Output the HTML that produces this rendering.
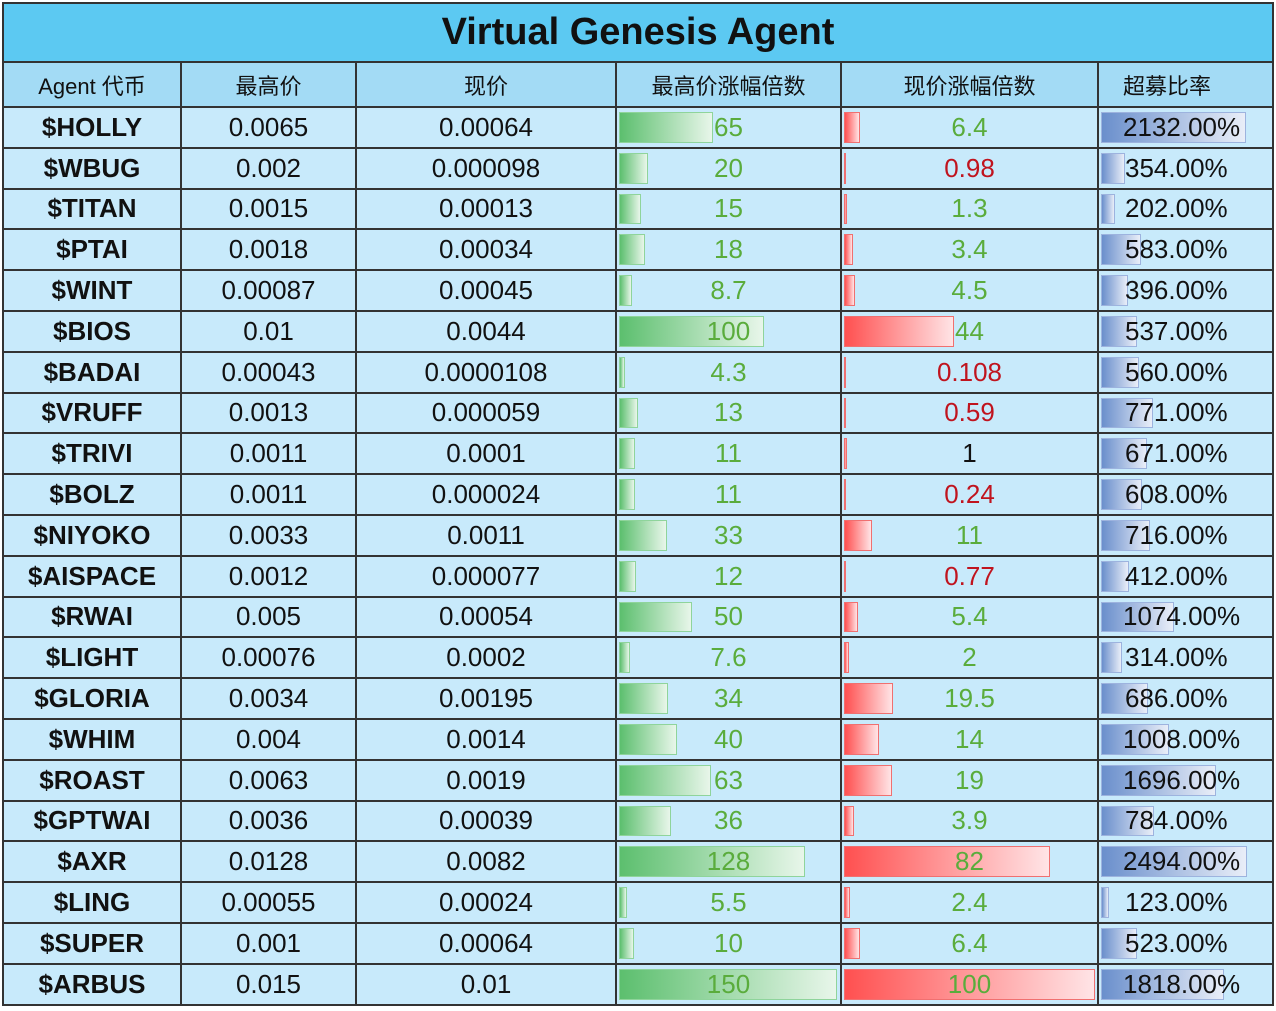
<!DOCTYPE html>
<html><head><meta charset="utf-8">
<style>
body{margin:0;width:1276px;height:1011px;background:#fff;overflow:hidden;font-family:"Liberation Sans","Noto Sans CJK SC",sans-serif}
#wrap{position:absolute;left:0;top:0;width:1276px;height:1011px}
.cell{position:absolute;box-sizing:border-box;display:flex;align-items:center;justify-content:center;font-size:26px;color:#111}
.bar{position:absolute;top:4px;bottom:4px;box-sizing:border-box}
.txt{position:relative}
</style></head><body>
<div id="wrap">
<div class="cell" style="left:2px;top:2px;width:1272px;height:61px;background:#5cc9f2;font-size:38px;font-weight:bold;border:2px solid #333">Virtual Genesis Agent</div>
</div>
<script>
const tokens=["$HOLLY","$WBUG","$TITAN","$PTAI","$WINT","$BIOS","$BADAI","$VRUFF","$TRIVI","$BOLZ","$NIYOKO","$AISPACE","$RWAI","$LIGHT","$GLORIA","$WHIM","$ROAST","$GPTWAI","$AXR","$LING","$SUPER","$ARBUS"];
const highPrice=["0.0065","0.002","0.0015","0.0018","0.00087","0.01","0.00043","0.0013","0.0011","0.0011","0.0033","0.0012","0.005","0.00076","0.0034","0.004","0.0063","0.0036","0.0128","0.00055","0.001","0.015"];
const curPrice=["0.00064","0.000098","0.00013","0.00034","0.00045","0.0044","0.0000108","0.000059","0.0001","0.000024","0.0011","0.000077","0.00054","0.0002","0.00195","0.0014","0.0019","0.00039","0.0082","0.00024","0.00064","0.01"];
const highMult=[65,20,15,18,8.7,100,4.3,13,11,11,33,12,50,7.6,34,40,63,36,128,5.5,10,150];
const curMult=[6.4,0.98,1.3,3.4,4.5,44,0.108,0.59,1,0.24,11,0.77,5.4,2,19.5,14,19,3.9,82,2.4,6.4,100];
const oversub=[2132,354,202,583,396,537,560,771,671,608,716,412,1074,314,686,1008,1696,784,2494,123,523,1818];
const headers=["Agent 代币","最高价","现价","最高价涨幅倍数","现价涨幅倍数","超募比率"];
const colX=[2,180,355,615,840,1097,1274];
const wrap=document.getElementById('wrap');
const top0=63,hdrH=45,rowH=40.8;
function cell(x0,x1,y,h,bg,name){const d=document.createElement('div');d.className='cell';


d.style.cssText=`left:${x0}px;top:${y}px;width:${x1-x0}px;height:${h}px;background:${bg};border-left:2px solid #333;border-bottom:2px solid #333;`;wrap.appendChild(d);return d;}
headers.forEach((t,i)=>{const c=cell(colX[i],colX[i+1],top0,hdrH,'#a3dbf5','header-'+i);c.style.fontSize='22px';if(i==5){c.style.justifyContent='flex-start';c.style.paddingLeft='24px';}if(i==5)c.style.borderRight='2px solid #333';c.textContent=t;});
const gScale=218/150,rScale=251/100,bScale=146/2150;
tokens.forEach((tk,r)=>{const y=top0+hdrH+r*rowH;const bg='#c8eafb';
 let c=cell(colX[0],colX[1],y,rowH,bg,'token-'+r);c.style.fontWeight='bold';c.textContent=tk;
 c=cell(colX[1],colX[2],y,rowH,bg,'high-price-'+r);c.textContent=highPrice[r];
 c=cell(colX[2],colX[3],y,rowH,bg,'current-price-'+r);c.textContent=curPrice[r];
 const mk=(ci,val,w,grad,bord,color,label,name)=>{const c=cell(colX[ci],colX[ci+1],y,rowH,bg,name);
  const b=document.createElement('div');b.className='bar';
  
  
  b.style.left='2px';b.style.width=Math.max(2,w)+'px';b.style.background=grad;b.style.border='1px solid '+bord;c.appendChild(b);
  const s=document.createElement('span');s.className='txt';s.textContent=label;s.style.color=color;c.appendChild(s);return c;};
 mk(3,highMult[r],highMult[r]*gScale,'linear-gradient(90deg,#5cbf6e,#e8f6ea)','#8fd49b','#5aac3c',String(highMult[r]),'high-mult-'+r);
 const cv=curMult[r];const col=cv<1?'#c0141e':(cv==1?'#111':'#5aac3c');
 mk(4,cv,cv*rScale,'linear-gradient(90deg,#ff5050,#ffe4e6)','#f07070',col,String(cv),'current-mult-'+r);
 const c6=mk(5,oversub[r],Math.min(146,oversub[r]*bScale),'linear-gradient(90deg,#6a8fcc,#e9eef8)','#9db3de','#111',oversub[r].toFixed(2)+'%','oversub-'+r);
 c6.style.borderRight='2px solid #333';c6.style.justifyContent='flex-start';c6.style.paddingLeft='26px';
 if(oversub[r]>=1000)c6.style.paddingLeft='24px';
});
</script>
</body></html>
